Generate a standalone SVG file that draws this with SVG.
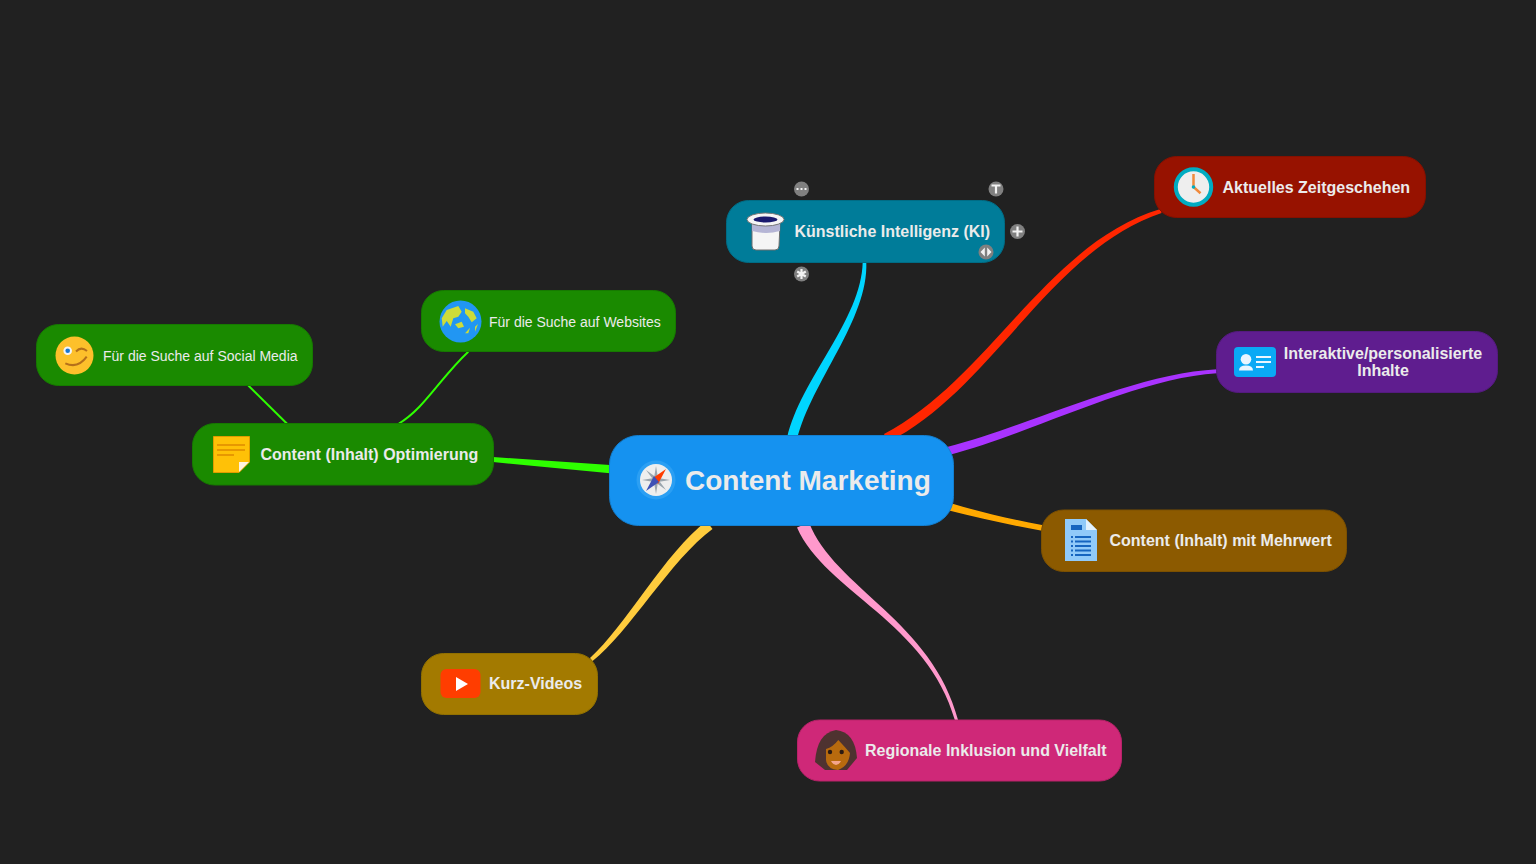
<svg xmlns="http://www.w3.org/2000/svg" width="1536" height="864" viewBox="0 0 1536 864">
<style>
.n{stroke-width:1}
text{font-family:"Liberation Sans",Arial,Helvetica,sans-serif;fill:#ebebeb;text-anchor:start}
.b{font-weight:700;font-size:16px}
.r{font-size:14px}
.c{font-weight:700;font-size:28px}
.ctl circle{fill:#808080}
.ctl path{fill:none;stroke:#f2f2f2;stroke-width:2.2}
</style>
<rect width="1536" height="864" fill="#212121"/>
<g id="connectors">
<path fill="#00d5ff" d="M787.100 437.800C800.700 378.700 861.500 320 862.700 262L866.300 262C868.500 320 811.300 381.300 796.900 440Z"/>
<path fill="#ff2600" d="M884 433.950C987.800 380.500 1046.800 243.200 1160.400 209.100L1161.600 212.900C1049.200 250.800 992.200 389.500 888 442Z"/>
<path fill="#a933ff" d="M947 447.100C1029 426.100 1133.800 373.500 1217 369.300L1217 373.300C1134.200 378.500 1031 433.900 949 454.900Z"/>
<path fill="#ffa900" d="M951 503.300C980 512 1010 519 1042 525V530.700C1010 525 980 518 949 510.500Z"/>
<path fill="#ff99cc" d="M809 522.500C834.600 588.100 932.400 621 958.200 720.500L955 720.500C927.600 622.300 825.400 591.900 797 527.500Z"/>
<path fill="#ffcc3d" d="M706.500 521C665.300 552.400 624.200 627.800 590 658L592.600 661C628.600 633.200 670.700 559.600 712.500 529Z"/>
<path fill="#2eff00" d="M493 457L610 465L610 473.300L493 462Z"/>
<path fill="none" stroke="#2eff00" stroke-width="2" d="M248.300 385.500L287.300 424"/>
<path fill="none" stroke="#2eff00" stroke-width="2" d="M468.300 351.700C440 378 425 408 398.300 424"/>
</g>
<g id="center">
<rect class="n" x="609.500" y="435.500" width="344" height="90" rx="29" fill="#1592f0" stroke="#137fd0"/>
<circle cx="656" cy="480" r="19.500" fill="#2b9ff3"/>
<circle cx="656" cy="480" r="16" fill="#eeeeee"/>
<path fill="#9aa5ad" d="M656 466L658 478L670 480L658 482L656 494L654 482L642 480L654 478Z"/>
<path fill="#9aa5ad" d="M646 470L657 478L666 490L655 482Z"/>
<path fill="#ff3d00" d="M666 469L658 484L653 478Z"/>
<path fill="#3f51b5" d="M646 491L654 476L659 482Z"/>
<text class="c" x="685" y="490">Content Marketing</text>
</g>
<g id="ki">
<rect class="n" x="726.500" y="200.500" width="278" height="62" rx="22" fill="#007c99" stroke="#006c85"/>
<path d="M752 224H780L779 246Q779 250 775 250H756Q752 250 752 246Z" fill="#f5f5f5" stroke="#6d6d6d"/>
<path d="M752 224H780V231Q766 235 752 231Z" fill="#b5b5d5"/>
<ellipse cx="765.500" cy="219.500" rx="18.500" ry="6.500" fill="#f5f5f5" stroke="#777"/>
<ellipse cx="765.500" cy="219.500" rx="12" ry="3" fill="#1a1a6e"/>
<text class="b" x="794.500" y="237">Künstliche Intelligenz (KI)</text>
</g>
<g id="ki-controls" class="ctl">
<circle cx="801.500" cy="189" r="7.500"/>
<path d="M796.500 189h2M800.500 189h2M804.500 189h2"/>
<circle cx="996" cy="189" r="7.500"/>
<path d="M991.500 185.500h9M996 185.500v8"/>
<circle cx="1017.500" cy="231.500" r="7.500"/>
<path d="M1012.500 231.500h10M1017.500 226.500v10"/>
<circle cx="986" cy="252" r="7.500"/>
<path d="M984.800 247.500l-4.300 4.500l4.300 4.500ZM987.200 247.500l4.300 4.500l-4.300 4.500Z" style="fill:#f2f2f2;stroke:none"/>
<circle cx="801.500" cy="274" r="7.500"/>
<path d="M801.500 269v10M797.200 271.500l8.600 5M805.800 271.500l-8.600 5"/>
</g>
<g id="aktuelles">
<rect class="n" x="1154.500" y="156.500" width="271" height="61" rx="22" fill="#971200" stroke="#851000"/>
<circle cx="1193.500" cy="187" r="17.700" fill="#eeeeee" stroke="#00acc1" stroke-width="4"/>
<path d="M1193.500 174V187L1200.500 193.300" fill="none" stroke="#f08a3c" stroke-width="2.500"/>
<circle cx="1193.500" cy="187" r="1.800" fill="#00acc1"/>
<text class="b" x="1222.500" y="192.500">Aktuelles Zeitgeschehen</text>
</g>
<g id="interaktiv">
<rect class="n" x="1216.500" y="331.500" width="281" height="61" rx="22" fill="#5f1d8f" stroke="#541a7f"/>
<rect x="1234" y="347" width="42" height="30" rx="4" fill="#0aa9f5"/>
<circle cx="1246" cy="359.300" r="5.300" fill="#eaf6ff"/>
<path d="M1239 370.500Q1239 365.500 1246 365.500Q1253 365.500 1253 370.500Z" fill="#eaf6ff"/>
<path d="M1256 357h15M1256 362h15M1256 367h8" stroke="#eaf6ff" stroke-width="2" fill="none"/>
<text class="b" x="1383" y="358.500" style="text-anchor:middle">Interaktive/personalisierte</text>
<text class="b" x="1383" y="376" style="text-anchor:middle">Inhalte</text>
</g>
<g id="mehrwert">
<rect class="n" x="1041.500" y="510" width="305" height="61.500" rx="22" fill="#8c5a00" stroke="#7c5000"/>
<path d="M1065 519H1086L1097 530V561H1065Z" fill="#90caf9"/>
<path d="M1086 519L1097 530H1086Z" fill="#e3f2fd"/>
<rect x="1071" y="525" width="11" height="5" fill="#1565c0"/>
<path d="M1075 537h16M1075 541.500h16M1075 546h16M1075 550.500h16M1075 555h16M1071 537h2M1071 541.500h2M1071 546h2M1071 550.500h2M1071 555h2" stroke="#1565c0" stroke-width="1.800" fill="none"/>
<text class="b" x="1109.500" y="546">Content (Inhalt) mit Mehrwert</text>
</g>
<g id="regionale">
<rect class="n" x="797.500" y="720" width="324" height="61" rx="22" fill="#cf2878" stroke="#b92269"/>
<path d="M825 770L815 762Q817 733 836 730Q855 732 857 758L847 770Z" fill="#4e3230"/>
<path d="M826 749Q833 747 838.300 740Q845 747 850 753Q849 766 838 770Q827 769 826 760Z" fill="#b86a0e"/>
<circle cx="830" cy="752" r="2.200" fill="#2b1a12"/>
<circle cx="841.700" cy="752" r="2.200" fill="#2b1a12"/>
<path d="M831 761H841Q839 765 836 765Q833 765 831 761Z" fill="#f4a58a"/>
<text class="b" x="865" y="756">Regionale Inklusion und Vielfalt</text>
</g>
<g id="kurz">
<rect class="n" x="421.500" y="653.500" width="176" height="61" rx="22" fill="#a37a00" stroke="#917000"/>
<rect x="440.500" y="669" width="40" height="29" rx="6" fill="#ff3d00"/>
<path d="M456 677V691L468 684Z" fill="#fff"/>
<text class="b" x="489" y="689">Kurz-Videos</text>
</g>
<g id="optimierung">
<rect class="n" x="192.500" y="423.500" width="301" height="61.500" rx="22" fill="#1a8a00" stroke="#167a00"/>
<path d="M213.500 436.500H249.500V462L239 472.500H213.500Z" fill="#ffc107" stroke="#e09b00"/>
<path d="M249 462L239 472V462Z" fill="#fff3e0"/>
<path d="M217 445h28M217 450h28M217 455h17" stroke="#e08a00" stroke-width="1.500" fill="none"/>
<text class="b" x="260.500" y="460">Content (Inhalt) Optimierung</text>
</g>
<g id="social">
<rect class="n" x="36.500" y="324.500" width="276" height="61" rx="22" fill="#1a8a00" stroke="#167a00"/>
<circle cx="74.500" cy="355.500" r="19" fill="#fdc02b"/>
<circle cx="67.700" cy="350.700" r="4.300" fill="#f5f5f5"/>
<circle cx="67.700" cy="350.700" r="2.300" fill="#1976d2"/>
<path d="M76 351.500Q81 346 87 351M65.300 363.300Q78 369 86.700 356.700" fill="none" stroke="#b5701a" stroke-width="2"/>
<text class="r" x="103" y="360.500">Für die Suche auf Social Media</text>
</g>
<g id="websites">
<rect class="n" x="421.500" y="290.500" width="254" height="61" rx="22" fill="#1a8a00" stroke="#167a00"/>
<circle cx="460.500" cy="321.500" r="21" fill="#2196f3"/>
<path d="M441.700 318.300L446.700 310L458.300 306L461.700 311.700L458.300 316.700L453.300 318.300L450.700 326.700L446.700 321L442.700 326.700Z" fill="#cddc39"/>
<path d="M465 308.300L473.300 311.700L476.700 318.300L471.700 322.300L468.300 316.700L465 313.300Z" fill="#cddc39"/>
<path d="M455 324.300L461.700 321.700L464 326.700L458.300 328.300Z" fill="#cddc39"/>
<path d="M465 333.300L470 327.700L468.300 333.300ZM475 326.700L478 324L475 331.700Z" fill="#cddc39"/>
<text class="r" x="489" y="326.500">Für die Suche auf Websites</text>
</g>
</svg>
